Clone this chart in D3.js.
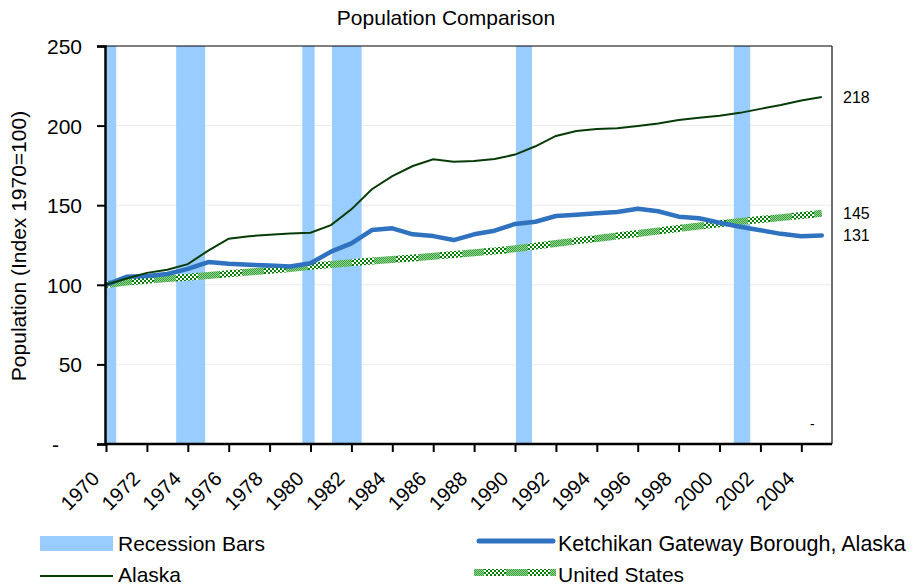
<!DOCTYPE html>
<html><head><meta charset="utf-8">
<script src="https://cdn.jsdelivr.net/npm/d3@7/dist/d3.min.js"></script>
<style>
body{margin:0;background:#fff;}
text{font-family:Arial,"Liberation Sans",sans-serif;fill:#000;}
</style></head>
<body><svg id="c" width="913" height="587"></svg>
<script>
const years = d3.range(1970, 2006);
const alaska = [100,104,107.5,109.5,113,121.5,129,130.5,131.5,132.2,132.7,137.5,147.4,160,168.3,174.6,178.8,177.3,177.8,179,181.8,187,193.5,196.6,197.9,198.3,199.8,201.3,203.5,205,206.2,208,210.5,213,215.8,218];
const ketchikan = [100,105,105.5,106.8,110,114.3,113.2,112.6,112.2,111.5,113.5,120.8,126,134.4,135.5,131.7,130.6,128.1,131.7,134,138.2,139.6,143.2,144,145,145.7,147.8,146.2,142.8,141.8,139,136.5,134.3,132,130.5,131];
const unitedStates = [100,101.8,102.9,103.9,104.8,105.9,106.9,108.0,109.1,110.3,111.6,112.7,113.8,114.9,115.9,116.9,118.0,119.0,120.1,121.2,122.6,124.3,125.9,127.6,129.1,130.7,132.2,133.8,135.4,136.9,138.3,139.7,141.0,142.2,143.5,144.9];
const recessionStart = [1970.0, 1973.43, 1979.6, 1981.05, 1990.05, 2000.7];
const recessionEnd   = [1970.5, 1974.85, 1980.2, 1982.5, 1990.83, 2001.5];
const yTicks = [0,50,100,150,200,250];
const yTickLabels = ["-","50","100","150","200","250"];
const xTicks = d3.range(1970, 2005, 2);
const endLabels = [{v:218,t:"218"},{v:145,t:"145"},{v:131,t:"131"}];

const svg = d3.select("#c");
const L=105, R=832, T=46, B=444;
const x = d3.scaleLinear().domain([1970, 2005.5]).range([106, 832]);
const y = d3.scaleLinear().domain([0, 250]).range([B, T]);

// pattern for US
const defs = svg.append("defs");
const pat = defs.append("pattern").attr("id","usPat").attr("patternUnits","userSpaceOnUse")
  .attr("width",44).attr("height",4);
pat.append("rect").attr("width",44).attr("height",4).attr("fill","#ffffff");
for (let i=0;i<22;i+=4){
  pat.append("rect").attr("x",i).attr("y",0).attr("width",2).attr("height",2).attr("fill","#008000");
  pat.append("rect").attr("x",i+2).attr("y",2).attr("width",2).attr("height",2).attr("fill","#008000");
}
for (let i=22;i<44;i+=2){
  for (let r=0;r<4;r++){
    pat.append("rect").attr("x",i+(r%2)).attr("y",r).attr("width",1).attr("height",1).attr("fill","#33a033");
    pat.append("rect").attr("x",i+1-(r%2)).attr("y",r).attr("width",1).attr("height",1).attr("fill","#9bd49b");
  }
}

// title
svg.append("text").attr("x",446).attr("y",25).attr("text-anchor","middle").style("font-size","21px").text("Population Comparison");

// gridlines
svg.append("g").selectAll("line").data(yTicks.filter(d=>d>0 && d<250)).join("line")
  .attr("x1",L).attr("x2",R).attr("y1",d=>y(d)).attr("y2",d=>y(d))
  .attr("stroke","#ececec").attr("stroke-width",1);

// recession bars
svg.append("g").selectAll("rect").data(recessionStart).join("rect")
  .attr("x",(d)=>x(d)).attr("width",(d,i)=>x(recessionEnd[i])-x(d))
  .attr("y",T).attr("height",B-T).attr("fill","#99ccff");

// plot border top/right
svg.append("line").attr("x1",L).attr("x2",R).attr("y1",T).attr("y2",T).attr("stroke","#000").attr("stroke-width",1);
svg.append("line").attr("x1",R).attr("x2",R).attr("y1",T).attr("y2",B).attr("stroke","#404040").attr("stroke-width",1.5);

// lines
const line = d3.line().x((d,i)=>x(years[i])).y(d=>y(d));
svg.append("path").datum(unitedStates).attr("d",line).attr("fill","none")
  .attr("stroke","url(#usPat)").attr("stroke-width",7);
svg.append("path").datum(ketchikan).attr("d",line).attr("fill","none")
  .attr("stroke","#2f72bf").attr("stroke-width",4.5).attr("stroke-linejoin","round").attr("stroke-linecap","round");
svg.append("path").datum(alaska).attr("d",line).attr("fill","none")
  .attr("stroke","#073b07").attr("stroke-width",2);

// axes
const yAxis = d3.axisLeft(y).tickValues(yTicks).tickSize(8).tickFormat((d,i)=>yTickLabels[i]);
const gy = svg.append("g").attr("transform",`translate(${L},0)`).call(yAxis);
gy.select(".domain").attr("stroke","#000").attr("stroke-width",2.5);
gy.selectAll(".tick line").attr("stroke","#000").attr("stroke-width",2);
gy.selectAll(".tick text").style("font-size","21px").attr("x",-23).attr("dy","0.36em").attr("fill","#000").attr("font-family","Arial, 'Liberation Sans', sans-serif");
gy.selectAll(".tick text").filter(d=>d===0).attr("x",-46);

const xAxis = d3.axisBottom(x).tickValues(xTicks).tickSize(8).tickFormat(d3.format("d"));
const gx = svg.append("g").attr("transform",`translate(0,${B})`).call(xAxis);
gx.select(".domain").attr("stroke","#000").attr("stroke-width",2.5).attr("d",`M${L},0H${R}`);
gx.selectAll(".tick line").attr("stroke","#000").attr("stroke-width",2);
gx.selectAll(".tick text").style("font-size","20px").attr("fill","#000").attr("font-family","Arial, 'Liberation Sans', sans-serif")
  .attr("text-anchor","end").attr("transform","translate(-6,36) rotate(-45)").attr("x",0).attr("y",0).attr("dy","0");

// y title
svg.append("text").attr("transform","translate(26,246) rotate(-90)").attr("text-anchor","middle")
  .style("font-size","21px").text("Population (Index 1970=100)");

// end labels
svg.append("g").selectAll("text").data(endLabels).join("text")
  .attr("x",843).attr("y",d=>y(d.v)+6).style("font-size","16px").text(d=>d.t);
svg.append("text").attr("x",810).attr("y",429).style("font-size","14px").text("-");

// legend
const lg = svg.append("g");
lg.append("rect").attr("x",40).attr("y",536).attr("width",73).attr("height",15).attr("fill","#99ccff");
lg.append("text").attr("x",118).attr("y",551).style("font-size","21px").text("Recession Bars");
lg.append("line").attr("x1",40).attr("x2",113).attr("y1",576).attr("y2",576).attr("stroke","#073b07").attr("stroke-width",2);
lg.append("text").attr("x",118).attr("y",582).style("font-size","21px").text("Alaska");
lg.append("line").attr("x1",479).attr("x2",553).attr("y1",541).attr("y2",541).attr("stroke","#2f72bf").attr("stroke-width",5).attr("stroke-linecap","round");
lg.append("text").attr("x",558).attr("y",551).style("font-size","21.5px").text("Ketchikan Gateway Borough, Alaska");
lg.append("line").attr("x1",474).attr("x2",556).attr("y1",572.5).attr("y2",572.5).attr("stroke","url(#usPat)").attr("stroke-width",7);
lg.append("text").attr("x",558).attr("y",582).style("font-size","21px").text("United States");
</script></body></html>
